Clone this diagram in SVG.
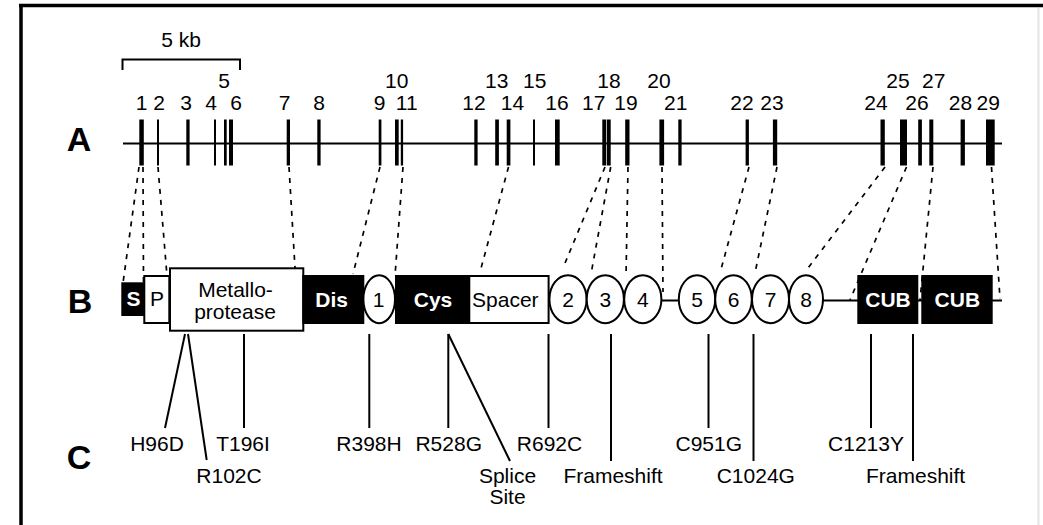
<svg xmlns="http://www.w3.org/2000/svg" width="1043" height="525" viewBox="0 0 1043 525">
<style>
text{font-family:"Liberation Sans",Arial,Helvetica,sans-serif;fill:#000}
.num{font-size:21px;text-anchor:middle}
.lbl{font-size:21px;text-anchor:middle}
.big{font-size:34px;font-weight:bold;text-anchor:middle}
.wb{font-size:21px;font-weight:bold;fill:#fff;text-anchor:middle}
.ex{fill:#000}
.dash{stroke:#000;stroke-width:1.7;stroke-dasharray:5 6;fill:none}
.ln{stroke:#000;stroke-width:2;fill:none}
.bw{fill:#fff;stroke:#000;stroke-width:2}
.bb{fill:#000;stroke:#000;stroke-width:2}
</style>
<rect x="0" y="0" width="1043" height="525" fill="#fff"/>
<g id="frame">
<line x1="19" y1="5.5" x2="1043" y2="5.5" stroke="#000" stroke-width="3.5"/>
<line x1="21" y1="4" x2="21" y2="525" stroke="#000" stroke-width="3.5"/>
<line x1="1038.5" y1="8" x2="1038.5" y2="525" stroke="#e4e4e4" stroke-width="2"/>
</g>
<g id="row-labels">
<text class="big" x="79" y="151">A</text>
<text class="big" x="80" y="313">B</text>
<text class="big" x="79" y="469">C</text>
</g>
<g id="scale-bar">
<path class="ln" d="M122.5 70 V59.5 H240 V70"/>
<text class="lbl" x="181" y="47">5 kb</text>
</g>
<g id="gene-A">
<line x1="123" y1="143.5" x2="1002" y2="143.5" stroke="#000" stroke-width="2"/>
<g id="exons">
<rect class="ex" x="139.3" y="119.5" width="4.5" height="46"/>
<rect class="ex" x="157" y="119.5" width="2" height="46"/>
<rect class="ex" x="186.3" y="119.5" width="3.3" height="46"/>
<rect class="ex" x="214" y="119.5" width="2" height="46"/>
<rect class="ex" x="224" y="119.5" width="2.7" height="46"/>
<rect class="ex" x="229" y="119.5" width="4" height="46"/>
<rect class="ex" x="286.7" y="119.5" width="3.3" height="46"/>
<rect class="ex" x="317.3" y="119.5" width="3.3" height="46"/>
<rect class="ex" x="378.7" y="119.5" width="2.7" height="46"/>
<rect class="ex" x="395" y="119.5" width="3.7" height="46"/>
<rect class="ex" x="400.8" y="119.5" width="2.3" height="46"/>
<rect class="ex" x="474.3" y="119.5" width="3.3" height="46"/>
<rect class="ex" x="495.2" y="119.5" width="3.7" height="46"/>
<rect class="ex" x="506.7" y="119.5" width="3.7" height="46"/>
<rect class="ex" x="533" y="119.5" width="2" height="46"/>
<rect class="ex" x="555" y="119.5" width="4.7" height="46"/>
<rect class="ex" x="602.3" y="119.5" width="4" height="46"/>
<rect class="ex" x="607" y="119.5" width="3.7" height="46"/>
<rect class="ex" x="625.2" y="119.5" width="4.3" height="46"/>
<rect class="ex" x="659.4" y="119.5" width="4.7" height="46"/>
<rect class="ex" x="678.3" y="119.5" width="3.3" height="46"/>
<rect class="ex" x="745.6" y="119.5" width="3.3" height="46"/>
<rect class="ex" x="772.9" y="119.5" width="4.3" height="46"/>
<rect class="ex" x="880.5" y="119.5" width="4.3" height="46"/>
<rect class="ex" x="900" y="119.5" width="7" height="46"/>
<rect class="ex" x="918.2" y="119.5" width="3.7" height="46"/>
<rect class="ex" x="929.3" y="119.5" width="4" height="46"/>
<rect class="ex" x="960.6" y="119.5" width="4.3" height="46"/>
<rect class="ex" x="986" y="119.5" width="8.7" height="46"/>
</g>
<g id="exon-numbers">
<text class="num" x="141.7" y="110">1</text>
<text class="num" x="159" y="110">2</text>
<text class="num" x="186" y="110">3</text>
<text class="num" x="211" y="110">4</text>
<text class="num" x="224" y="88">5</text>
<text class="num" x="236" y="110">6</text>
<text class="num" x="284.5" y="110">7</text>
<text class="num" x="319" y="110">8</text>
<text class="num" x="379.7" y="110">9</text>
<text class="num" x="396.7" y="87.5">10</text>
<text class="num" x="406.7" y="110">11</text>
<text class="num" x="474" y="110">12</text>
<text class="num" x="496.7" y="87.5">13</text>
<text class="num" x="512.5" y="110">14</text>
<text class="num" x="534.7" y="87.5">15</text>
<text class="num" x="557" y="110">16</text>
<text class="num" x="593.8" y="110">17</text>
<text class="num" x="609" y="87.5">18</text>
<text class="num" x="626" y="110">19</text>
<text class="num" x="659" y="87.5">20</text>
<text class="num" x="675.8" y="110">21</text>
<text class="num" x="742" y="110">22</text>
<text class="num" x="772" y="110">23</text>
<text class="num" x="876" y="110">24</text>
<text class="num" x="898" y="87.5">25</text>
<text class="num" x="917" y="110">26</text>
<text class="num" x="933.8" y="87.5">27</text>
<text class="num" x="960.5" y="110">28</text>
<text class="num" x="988.3" y="110">29</text>
</g>
</g>
<g id="connectors">
<line class="dash" x1="139" y1="167" x2="123" y2="283"/>
<line class="dash" x1="143" y1="167" x2="143.5" y2="283"/>
<line class="dash" x1="158" y1="167" x2="167" y2="276"/>
<line class="dash" x1="289" y1="167" x2="295" y2="268"/>
<line class="dash" x1="380" y1="167" x2="353" y2="274"/>
<line class="dash" x1="403" y1="167" x2="395" y2="276"/>
<line class="dash" x1="508.5" y1="167" x2="480" y2="272"/>
<line class="dash" x1="605" y1="167" x2="563" y2="268"/>
<line class="dash" x1="610.7" y1="167" x2="591" y2="274"/>
<line class="dash" x1="628" y1="167" x2="626" y2="277"/>
<line class="dash" x1="662" y1="167" x2="663" y2="292"/>
<line class="dash" x1="749" y1="167" x2="720" y2="273"/>
<line class="dash" x1="777" y1="167" x2="755" y2="273"/>
<line class="dash" x1="885" y1="167" x2="808" y2="268"/>
<line class="dash" x1="906.5" y1="167" x2="850" y2="300"/>
<line class="dash" x1="933" y1="167" x2="920" y2="300"/>
<line class="dash" x1="991.5" y1="167" x2="1000" y2="299"/>
<line x1="640" y1="300.5" x2="1002" y2="300.5" stroke="#000" stroke-width="2"/>
<line class="ln" x1="185" y1="334" x2="165" y2="428"/>
<line class="ln" x1="188" y1="334" x2="206.7" y2="460"/>
<line class="ln" x1="244" y1="334" x2="244" y2="428"/>
<line class="ln" x1="369.3" y1="334" x2="369.3" y2="428"/>
<line class="ln" x1="448.3" y1="334" x2="448.3" y2="428"/>
<line class="ln" x1="448.3" y1="334" x2="510" y2="461"/>
<line class="ln" x1="548.5" y1="334" x2="548.5" y2="428"/>
<line class="ln" x1="611" y1="334" x2="611" y2="461"/>
<line class="ln" x1="708.5" y1="334" x2="708.5" y2="428"/>
<line class="ln" x1="753.5" y1="334" x2="753.5" y2="461"/>
<line class="ln" x1="871" y1="334" x2="871" y2="428"/>
<line class="ln" x1="913" y1="334" x2="913" y2="461"/>
</g>
<g id="protein-B">
<g id="dom-S"><rect class="bb" x="122.3" y="283.3" width="22" height="31.7"/><text class="wb" x="133.5" y="306">S</text></g>
<g id="dom-P"><rect class="bw" x="144.3" y="276" width="25" height="47"/><text class="lbl" x="157" y="306">P</text></g>
<g id="dom-metallo"><rect class="bw" x="170" y="268.3" width="133.3" height="62.4"/><text class="lbl" x="235.5" y="296.5">Metallo-</text><text class="lbl" x="235" y="318.5">protease</text></g>
<g id="dom-dis"><rect class="bb" x="303.3" y="276" width="60" height="47"/><text class="wb" x="331.7" y="306.5">Dis</text></g>
<g id="tsp-1"><ellipse class="bw" cx="379.2" cy="299.2" rx="15.8" ry="24"/><text class="lbl" x="378.5" y="306.5">1</text></g>
<g id="dom-cys"><rect class="bb" x="396" y="276" width="73.3" height="47"/><text class="wb" x="433" y="306.5">Cys</text></g>
<g id="dom-spacer"><rect class="bw" x="469.3" y="276" width="79.3" height="47"/><text class="lbl" x="505.3" y="306.5">Spacer</text></g>
<g id="tsp-2"><ellipse class="bw" cx="568" cy="299.2" rx="18.6" ry="24"/><text class="lbl" x="568" y="306.5">2</text></g>
<g id="tsp-3"><ellipse class="bw" cx="605.3" cy="299.2" rx="18.6" ry="24"/><text class="lbl" x="605.3" y="306.5">3</text></g>
<g id="tsp-4"><ellipse class="bw" cx="642.8" cy="299.2" rx="18.6" ry="24"/><text class="lbl" x="642.8" y="306.5">4</text></g>
<g id="tsp-5"><ellipse class="bw" cx="697" cy="299.2" rx="18.2" ry="24"/><text class="lbl" x="697" y="306.5">5</text></g>
<g id="tsp-6"><ellipse class="bw" cx="733.5" cy="299.2" rx="18.3" ry="24"/><text class="lbl" x="733.5" y="306.5">6</text></g>
<g id="tsp-7"><ellipse class="bw" cx="770.5" cy="299.2" rx="18.5" ry="24"/><text class="lbl" x="770.5" y="306.5">7</text></g>
<g id="tsp-8"><ellipse class="bw" cx="806" cy="299.2" rx="17" ry="24"/><text class="lbl" x="806" y="306.5">8</text></g>
<g id="dom-cub1"><rect class="bb" x="858.3" y="276" width="59" height="47"/><text class="wb" x="888" y="306.5">CUB</text></g>
<g id="dom-cub2"><rect class="bb" x="922.3" y="276" width="69.4" height="47"/><text class="wb" x="957.3" y="306.5">CUB</text></g>
</g>
<g id="mutations-C">
<text class="lbl" x="157" y="451">H96D</text>
<text class="lbl" x="229" y="483">R102C</text>
<text class="lbl" x="243" y="451">T196I</text>
<text class="lbl" x="369" y="451">R398H</text>
<text class="lbl" x="448.7" y="451">R528G</text>
<text class="lbl" x="507.5" y="483">Splice</text>
<text class="lbl" x="507.5" y="504">Site</text>
<text class="lbl" x="549.5" y="451">R692C</text>
<text class="lbl" x="613" y="483">Frameshift</text>
<text class="lbl" x="708.8" y="451">C951G</text>
<text class="lbl" x="755.8" y="483">C1024G</text>
<text class="lbl" x="866" y="451">C1213Y</text>
<text class="lbl" x="915.6" y="483">Frameshift</text>
</g>
</svg>
